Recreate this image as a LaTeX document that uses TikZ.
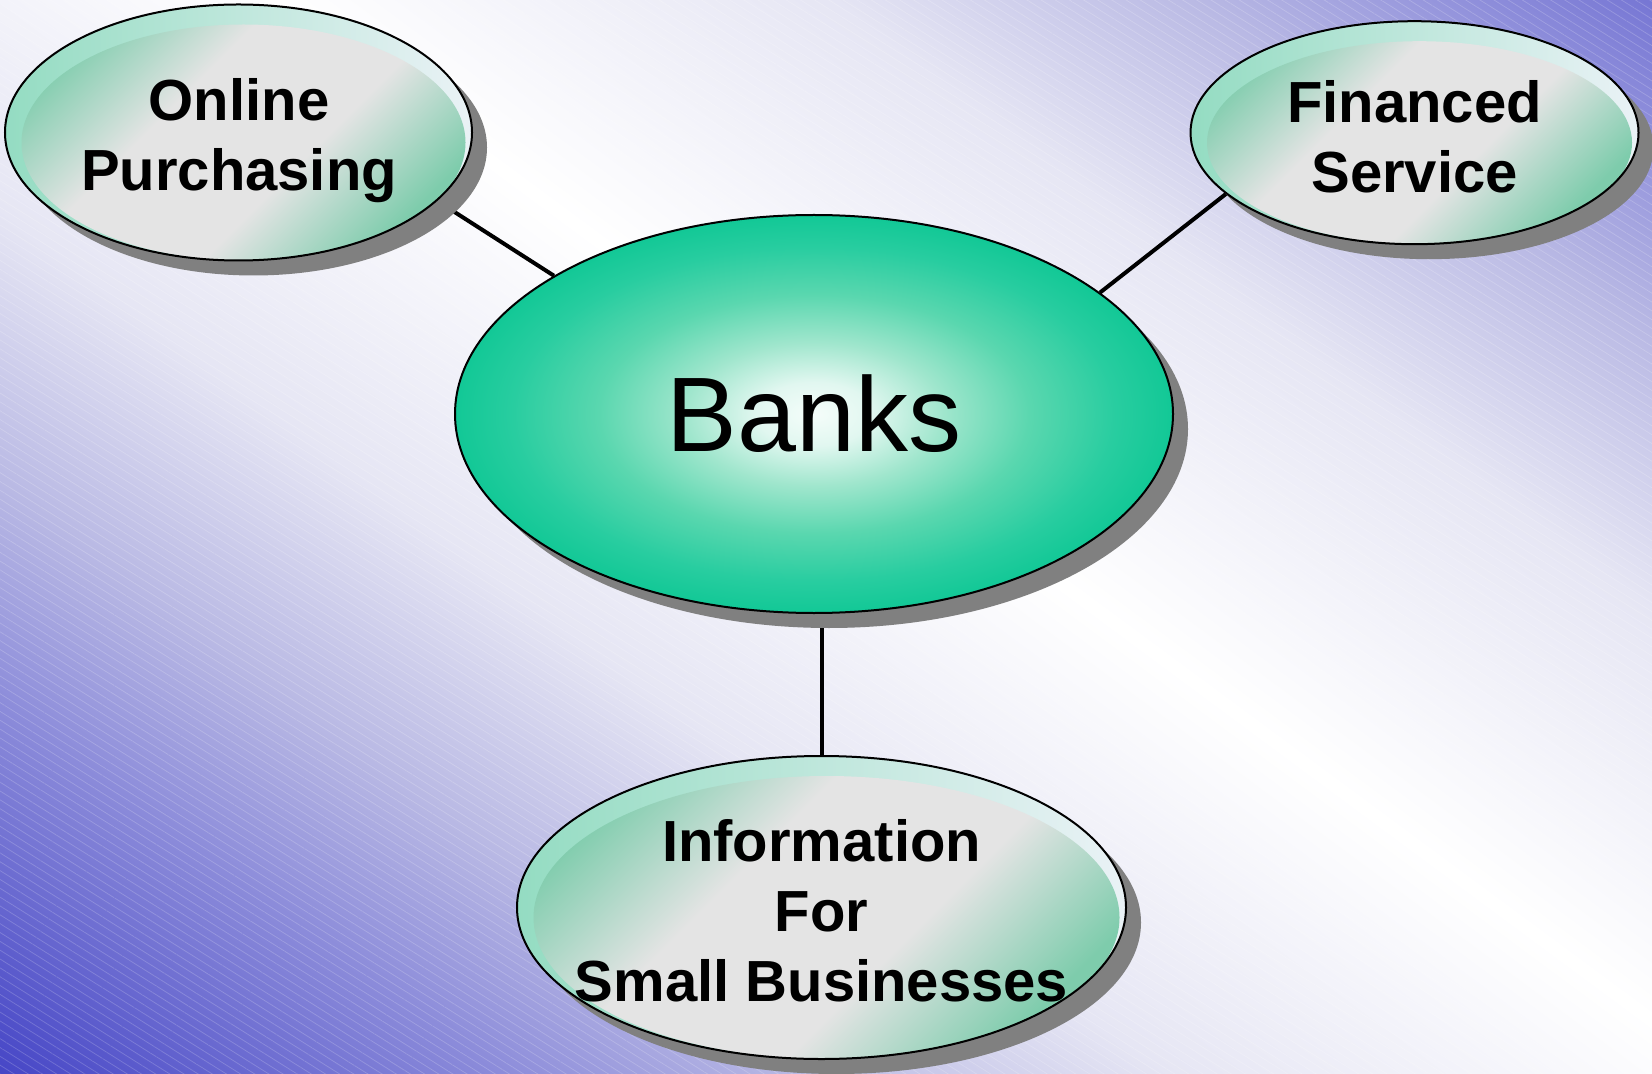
\documentclass[tikz,border=0pt]{standalone}
\usepackage{fontspec}
\setmainfont{Liberation Sans}
\usetikzlibrary{shapes.geometric,shadows,patterns.meta}

% colours
\definecolor{bgc0}{RGB}{255,255,255}
\definecolor{bgc1}{RGB}{230,230,244}
\definecolor{bgc2}{RGB}{185,185,228}
\definecolor{bgc3}{RGB}{140,140,218}
\definecolor{bgc4}{RGB}{70,70,198}
\definecolor{bgc5}{RGB}{55,55,194}
\definecolor{bankgreen}{RGB}{18,200,150}
\definecolor{bankc0}{RGB}{245,253,250}
\definecolor{bankc1}{RGB}{225,247,240}
\definecolor{bankc2}{RGB}{160,230,205}
\definecolor{bankc3}{RGB}{90,215,175}
\definecolor{bankc4}{RGB}{40,205,160}
\definecolor{bubgreen}{RGB}{126,204,172}
\definecolor{bubmid}{RGB}{176,216,200}
\definecolor{bubgray}{RGB}{228,228,228}
\definecolor{rimgreen}{RGB}{148,220,194}
\definecolor{rimlight}{RGB}{234,242,246}
\definecolor{shadowgray}{RGB}{128,128,128}

\pgfdeclareverticalshading{bgband}{100bp}{color(0bp)=(bgc5); color(25bp)=(bgc5);
  color(26.7bp)=(bgc4); color(33.5bp)=(bgc3); color(37.5bp)=(bgc2); color(42.5bp)=(bgc1);
  color(50bp)=(bgc0);
  color(57.5bp)=(bgc1); color(62.5bp)=(bgc2); color(66.5bp)=(bgc3); color(73.3bp)=(bgc4);
  color(75bp)=(bgc5); color(100bp)=(bgc5)}
\pgfdeclareverticalshading{bubshade}{100bp}{color(0bp)=(bubgreen); color(25bp)=(bubgreen);
  color(33bp)=(bubmid); color(41bp)=(bubgray); color(59bp)=(bubgray); color(67bp)=(bubmid);
  color(75bp)=(bubgreen); color(100bp)=(bubgreen)}
\pgfdeclareradialshading{banksglow}{\pgfpoint{0bp}{0bp}}{color(0bp)=(bankc0);
  color(4bp)=(bankc1); color(9bp)=(bankc2); color(15bp)=(bankc3); color(21bp)=(bankc4);
  color(25bp)=(bankgreen); color(50bp)=(bankgreen)}

\pgfdeclarelayer{back}
\pgfdeclarelayer{links}
\pgfsetlayers{back,links,main}

\tikzset{
  shadowed/.style={drop shadow={shadow xshift=7.5pt, shadow yshift=-7.5pt, fill=shadowgray, opacity=1}},
  bubinner/.style={shading=bubshade, shading angle=45},
  bubble/.style 2 args={ellipse, draw=black, line width=1pt, inner sep=0pt, shadowed,
    minimum width=#1, minimum height=#2, left color=rimgreen, right color=rimlight,
    path picture={\shade[bubinner] ([xshift=2.5pt,yshift=-5pt]path picture bounding box.center)
      ellipse [x radius=#1/2-5.75pt, y radius=#2/2-5pt];}},
  bubtext/.style={align=center, inner sep=0pt, font=\fontsize{29}{35}\selectfont\bfseries},
  bankbox/.style={ellipse, draw=black, line width=1pt, inner sep=0pt, shadowed, shade, shading=banksglow,
    minimum width=359pt, minimum height=199pt, font=\fontsize{53}{60}\selectfont},
  link/.style={draw=black, line width=2pt}
}

\begin{document}
\begin{tikzpicture}[x=0.5pt, y=-0.5pt]
  \useasboundingbox (0,0) rectangle (1652,1074);

  % background
  \begin{pgfonlayer}{back}
    \begin{scope}
      \clip (0,0) rectangle (1652,1074);
      \shade[shading=bgband, transform canvas={shift={(1300,760)}, rotate=-36.5}] (-2600,-1100) rectangle (2600,1100);
      \fill[pattern={Lines[angle=-32, distance=3.75pt, line width=0.4pt]}, pattern color=white, opacity=0.18] (0,0) rectangle (1652,1074);
    \end{scope}
  \end{pgfonlayer}

  % bubbles
  \node (banks) [bankbox] at (814,414) {Banks};
  \node (online) [bubble={233.5pt}{128pt}] at (238.5,132.5) {};
  \node (online-txt) [bubtext] at (239,141) {Online\\Purchasing};
  \node (finance) [bubble={224pt}{111.5pt}] at (1414.5,132.7) {};
  \node (finance-txt) [bubtext] at (1414.5,137) {Financed\\Service};
  \node (info) [bubble={304.5pt}{151.5pt}] at (821.5,907.5) {};
  \node (info-txt) [bubtext] at (821.5,911) {Information\\For\\Small Businesses};

  % connectors
  \begin{pgfonlayer}{links}
    \path[link] (online.-19) -- (banks.152.5);
    \path[link] (finance.198.4) -- (banks.23.4);
    \path[link] (info.north) -- (info |- banks.south);
  \end{pgfonlayer}
\end{tikzpicture}
\end{document}
